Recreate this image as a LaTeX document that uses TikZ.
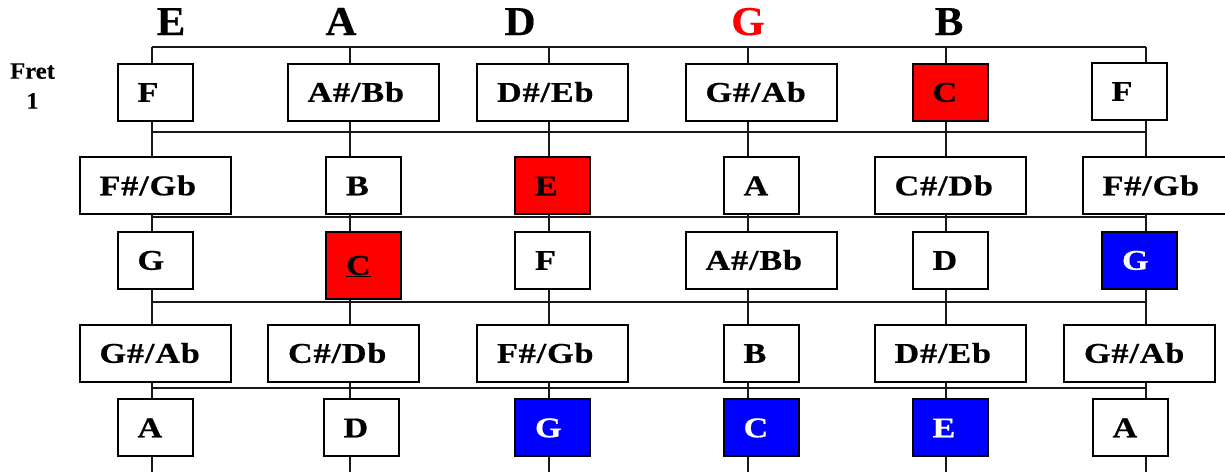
\documentclass[tikz,border=0pt]{standalone}
\usepackage{fontspec}
\newfontfamily\notefont{Liberation Serif}[LetterSpace=3,FakeStretch=1.2,FakeBold=0.6]
\newfontfamily\headfont{Liberation Serif}[FakeStretch=1.05,FakeBold=0.4]
\definecolor{notered}{RGB}{255,0,0}
\definecolor{noteblue}{RGB}{0,0,255}
\tikzset{
  wire/.style={line width=2pt, draw=black!90},
  note/.style={draw=black, line width=2pt, fill=white, inner xsep=20pt, inner ysep=0pt,
    align=left, minimum height=57pt, text height=19.5pt, text depth=0pt,
    font=\notefont\bfseries\fontsize{28.5}{30}\selectfont},
  narrow/.style={note, text width=35pt},
  wide/.style={note, text width=111pt},
  hot/.style={fill=notered},
  cool/.style={fill=noteblue, text=white},
  head/.style={anchor=base, font=\headfont\bfseries\fontsize{41}{44}\selectfont},
}
\begin{document}
\begin{tikzpicture}[x=1pt,y=-1pt]
\useasboundingbox (0,0) rectangle (1225,472);
% strings
\foreach \i/\x in {1/152,2/350,3/549,4/748,5/946,6/1146}{
  \coordinate (t\i) at (\x,47);
  \coordinate (b\i) at (\x,472);
  \draw[wire] (t\i) -- (b\i);
}
\draw[wire] (t1) -- (t6);
% fret lines
\foreach \k/\y in {1/132,2/217,3/302,4/387.5}{
  \coordinate (fl\k) at (152,\y);
  \coordinate (fr\k) at (1146,\y);
  \draw[wire] (fl\k) -- (fr\k);
}
% headings
\node[head] (hE) at (171,35) {E};
\node[head] (hA) at (341,35) {A};
\node[head] (hD) at (520,35) {D};
\node[head, text=notered] (hG) at (748,35) {G};
\node[head] (hB) at (949,35) {B};
\node[align=center, font=\headfont\bfseries\fontsize{23.5}{30}\selectfont] (fret) at (32.5,86) {Fret\\1};
% row 1
\node[narrow] (r1a) at (155,92) {F};
\node[wide] (r1b) at (363,92) {A\#/Bb};
\node[wide] (r1c) at (552.5,92) {D\#/Eb};
\node[wide] (r1d) at (761,92) {G\#/Ab};
\node[narrow, hot] (r1e) at (950,92) {C};
\node[narrow] (r1f) at (1129,91) {F};
% row 2
\node[wide] (r2a) at (155,185.5) {F\#/Gb};
\node[narrow] (r2b) at (363.5,185.5) {B};
\node[narrow, hot] (r2c) at (552.5,185.5) {E};
\node[narrow] (r2d) at (761,185.5) {A};
\node[wide] (r2e) at (950,185.5) {C\#/Db};
\node[wide] (r2f) at (1158,185.5) {F\#/Gb};
% row 3
\node[narrow] (r3a) at (155,260) {G};
\node[narrow, hot, minimum height=67pt] (r3b) at (363.5,265) {\underline{C}};
\node[narrow] (r3c) at (552.5,260) {F};
\node[wide] (r3d) at (761,260) {A\#/Bb};
\node[narrow] (r3e) at (950,260) {D};
\node[narrow, cool] (r3f) at (1139.5,260) {G};
% row 4
\node[wide] (r4a) at (155,353) {G\#/Ab};
\node[wide] (r4b) at (343.5,353) {C\#/Db};
\node[wide] (r4c) at (552.5,353) {F\#/Gb};
\node[narrow] (r4d) at (761,353) {B};
\node[wide] (r4e) at (950,353) {D\#/Eb};
\node[wide] (r4f) at (1139.5,353) {G\#/Ab};
% row 5
\node[narrow] (r5a) at (155,427.5) {A};
\node[narrow] (r5b) at (361,427.5) {D};
\node[narrow, cool] (r5c) at (552.5,427.5) {G};
\node[narrow, cool] (r5d) at (761,427.5) {C};
\node[narrow, cool] (r5e) at (950,427.5) {E};
\node[narrow] (r5f) at (1130,427.5) {A};
\end{tikzpicture}
\end{document}
